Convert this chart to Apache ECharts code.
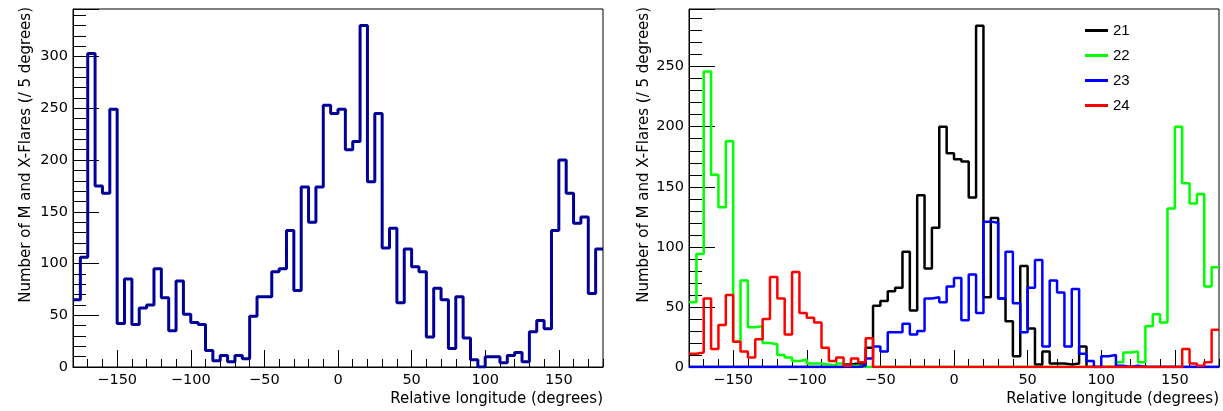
<!DOCTYPE html>
<html>
<head>
<meta charset="utf-8">
<title>M and X flares vs relative longitude</title>
<script src="https://cdn.jsdelivr.net/npm/echarts@6/dist/echarts.min.js"></script>
<style>
html, body { margin: 0; padding: 0; background: #fff; }
#main { width: 1223px; height: 411px; }
</style>
</head>
<body>
<div id="main"></div>
<script>
// histogram binning: 72 bins of 5 degrees from -180
const binLow = -180;
const binWidth = 5;

// left panel, all cycles together
const allCycles = [65, 106, 303, 175, 168, 249, 42, 85, 41, 57, 60, 95,
  67, 35, 83, 51, 43, 41, 16, 6, 11, 5, 11, 8,
  49, 68, 68, 92, 95, 132, 74, 174, 140, 174, 253, 245,
  249, 210, 218, 330, 179, 245, 115, 134, 62, 114, 97, 92,
  29, 76, 65, 18, 68, 28, 7, 0, 10, 10, 4, 11,
  14, 5, 34, 45, 37, 132, 200, 168, 139, 145, 71, 114];

// right panel, one histogram per solar cycle
const cycle21 = [0, 0, 0, 0, 0, 0, 0, 0, 0, 0, 0, 0,
  0, 0, 0, 0, 0, 0, 0, 0, 0, 2, 3, 3,
  16, 51, 55, 63, 66, 96, 47, 143, 82, 116, 200, 178,
  173, 171, 141, 284, 58, 124, 57, 38, 9, 84, 32, 2,
  13, 3, 3, 2, 3, 17, 0, 0, 0, 0, 0, 0,
  0, 0, 0, 0, 0, 0, 0, 0, 0, 0, 0, 0];
const cycle22 = [54, 94, 246, 160, 133, 188, 21, 72, 33, 34, 20, 19,
  10, 8, 5, 6, 3, 3, 2, 1, 3, 1, 1, 0,
  0, 0, 0, 0, 0, 0, 0, 0, 0, 0, 0, 0,
  0, 0, 0, 0, 0, 0, 0, 0, 0, 0, 0, 0,
  0, 0, 0, 0, 0, 0, 0, 0, 0, 0, 4, 12,
  13, 4, 34, 44, 37, 132, 200, 153, 136, 144, 67, 83];
const cycle23 = [0, 0, 0, 0, 0, 0, 0, 0, 0, 0, 0, 0,
  0, 0, 0, 0, 0, 0, 0, 0, 0, 0, 0, 1,
  7, 17, 13, 29, 29, 36, 27, 30, 57, 58, 54, 67,
  74, 39, 77, 45, 121, 120, 57, 96, 53, 29, 66, 89,
  17, 72, 62, 17, 65, 11, 5, 0, 9, 10, 1, 0,
  1, 0, 0, 0, 0, 0, 0, 0, 0, 0, 0, 0];
const cycle24 = [11, 12, 57, 15, 35, 60, 21, 13, 8, 23, 40, 75,
  57, 27, 79, 45, 41, 37, 16, 5, 8, 1, 7, 4,
  24, 0, 0, 0, 0, 0, 0, 0, 0, 0, 0, 0,
  0, 0, 0, 0, 0, 0, 0, 0, 0, 0, 0, 0,
  0, 0, 0, 0, 0, 0, 0, 0, 0, 0, 0, 0,
  0, 0, 0, 0, 0, 0, 0, 15, 3, 1, 4, 31];

const cycleNames = ["21", "22", "23", "24"];
const cycleColors = ["#000000", "#00ff00", "#0000ff", "#ff0000"];

const xTickLabels = [-150, -100, -50, 0, 50, 100, 150];
const yTickLabelsLeft = [0, 50, 100, 150, 200, 250, 300];
const yTickLabelsRight = [0, 50, 100, 150, 200, 250];

const yTitle = "Number of M and X-Flares (/ 5 degrees)";
const xTitle = "Relative longitude (degrees)";

const font = "'DejaVu Sans', sans-serif";
const legendFont = "'Liberation Sans', Arial, sans-serif";

// step points: left edge of every bin plus the right edge of the last one
function steps(values) {
  const pts = values.map((v, i) => [binLow + i * binWidth, v]);
  pts.push([binLow + values.length * binWidth, values[values.length - 1]]);
  return pts;
}

function minus(v) {
  return v < 0 ? "\u2212" + Math.abs(v) : String(v);
}

// frame geometry (pixels)
const frameW = 530, frameH = 358, frameTop = 9;
const leftX = 73, rightX = 689;
const pxPerDeg = frameW / 360;

function grids(x) {
  return [
    { left: x, top: frameTop, width: frameW, height: frameH, show: true,
      borderColor: "#000", borderWidth: 1, backgroundColor: "#fff", outerBoundsMode: "none" },
    // overlay covering -150..150, only used for the long ticks and labels
    { left: x + 30 * pxPerDeg, top: frameTop, width: 300 * pxPerDeg, height: frameH,
      show: false, outerBoundsMode: "none" }
  ];
}

function xAxes(g) {
  return [
    { gridIndex: g, type: "value", min: -180, max: 180, interval: 10,
      axisLine: { onZero: false, lineStyle: { color: "#000", width: 1 } },
      axisTick: { inside: true, length: 8, lineStyle: { color: "#000" } },
      axisLabel: { show: false }, splitLine: { show: false } },
    { gridIndex: g + 1, type: "value", min: -150, max: 150, interval: 50,
      axisLine: { show: false, onZero: false },
      axisTick: { inside: true, length: 17, lineStyle: { color: "#000" } },
      axisLabel: { color: "#000", fontSize: 14.5, fontFamily: font, margin: 6,
        formatter: v => xTickLabels.includes(v) ? minus(v) : "" },
      splitLine: { show: false } }
  ];
}

function yAxes(g, max, labels) {
  return [
    { gridIndex: g, type: "value", min: 0, max: max, interval: 10,
      axisLine: { show: true, onZero: false, lineStyle: { color: "#000", width: 1 } },
      axisTick: { inside: true, length: 13, lineStyle: { color: "#000" } },
      axisLabel: { show: false }, splitLine: { show: false } },
    { gridIndex: g, type: "value", min: 0, max: max, interval: 50, position: "left",
      axisLine: { show: false, onZero: false },
      axisTick: { inside: true, length: 26, lineStyle: { color: "#000" } },
      axisLabel: { color: "#000", fontSize: 14.5, fontFamily: font, margin: 5,
        formatter: v => labels.includes(v) ? String(v) : "" },
      splitLine: { show: false } },
    { gridIndex: g + 1, type: "value", min: 0, max: 1, show: false }
  ];
}

const chart = echarts.init(document.getElementById("main"), null, { renderer: "canvas" });

const rightData = [cycle21, cycle22, cycle23, cycle24];

chart.setOption({
  animation: false,
  backgroundColor: "#fff",
  grid: [...grids(leftX), ...grids(rightX)],
  xAxis: [...xAxes(0), ...xAxes(2)],
  yAxis: [...yAxes(0, 346, yTickLabelsLeft), ...yAxes(2, 298, yTickLabelsRight)],
  legend: {
    orient: "vertical", left: 1080, top: 18, itemWidth: 23, itemHeight: 3, itemGap: 10,
    icon: "rect", data: cycleNames,
    textStyle: { color: "#000", fontSize: 15, fontFamily: legendFont }
  },
  series: [
    { type: "line", name: "all", xAxisIndex: 0, yAxisIndex: 0, step: "end",
      data: steps(allCycles), symbol: "none", clip: true,
      lineStyle: { color: "#000099", width: 3 }, itemStyle: { color: "#000099" } },
    ...rightData.map((vals, k) => ({
      type: "line", name: cycleNames[k], xAxisIndex: 2, yAxisIndex: 3, step: "end",
      data: steps(vals), symbol: "none", clip: true,
      lineStyle: { color: cycleColors[k], width: 2.5 }, itemStyle: { color: cycleColors[k] }
    }))
  ],
  graphic: [
    { type: "text", x: 26, y: 7, rotation: Math.PI / 2,
      style: { text: yTitle, fill: "#000", fontSize: 15, fontFamily: font, align: "right", verticalAlign: "middle" } },
    { type: "text", x: 644, y: 7, rotation: Math.PI / 2,
      style: { text: yTitle, fill: "#000", fontSize: 15, fontFamily: font, align: "right", verticalAlign: "middle" } },
    { type: "text", x: 603, y: 399,
      style: { text: xTitle, fill: "#000", fontSize: 15, fontFamily: font, align: "right", verticalAlign: "middle" } },
    { type: "text", x: 1219, y: 399,
      style: { text: xTitle, fill: "#000", fontSize: 15, fontFamily: font, align: "right", verticalAlign: "middle" } }
  ]
});
</script>
</body>
</html>
